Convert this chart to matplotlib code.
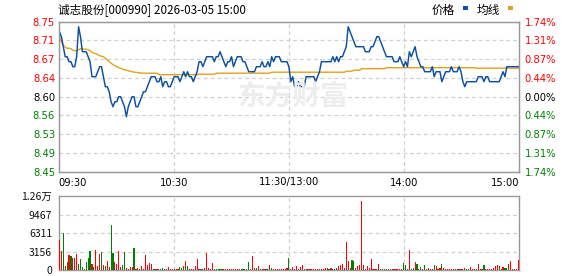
import matplotlib
matplotlib.use('Agg')
import matplotlib.pyplot as plt
from matplotlib.patches import Rectangle
from matplotlib.transforms import blended_transform_factory

W, H = 578, 276

title = "诚志股份[000990] 2026-03-05 15:00"
legend_names = ["价格", "均线"]
watermark = "东方财富"
prev_close = 8.60

price = [
    8.73, 8.72, 8.70, 8.68, 8.68, 8.67, 8.67, 8.66, 8.66, 8.68,
    8.74, 8.72, 8.69, 8.69, 8.69, 8.68, 8.67, 8.64, 8.64, 8.64,
    8.65, 8.66, 8.66, 8.64, 8.62, 8.62, 8.61, 8.59, 8.58, 8.59,
    8.59, 8.60, 8.60, 8.59, 8.58, 8.56, 8.58, 8.59, 8.60, 8.60,
    8.58, 8.58, 8.59, 8.60, 8.61, 8.61, 8.62, 8.63, 8.64, 8.64,
    8.64, 8.63, 8.63, 8.64, 8.62, 8.63, 8.63, 8.62, 8.62, 8.63,
    8.64, 8.64, 8.64, 8.63, 8.64, 8.65, 8.64, 8.65, 8.64, 8.64,
    8.63, 8.64, 8.65, 8.67, 8.67, 8.66, 8.67, 8.68, 8.68, 8.68,
    8.68, 8.67, 8.68, 8.68, 8.69, 8.68, 8.67, 8.66, 8.67, 8.67,
    8.68, 8.66, 8.67, 8.68, 8.68, 8.68, 8.67, 8.67, 8.66, 8.65,
    8.65, 8.65, 8.65, 8.66, 8.66, 8.66, 8.67, 8.66, 8.66, 8.67,
    8.66, 8.68, 8.67, 8.68, 8.68, 8.68, 8.67, 8.67, 8.67, 8.67,
    8.66, 8.63, 8.64, 8.62, 8.62, 8.63, 8.62, 8.62, 8.62, 8.64,
    8.64, 8.64, 8.64, 8.64, 8.63, 8.64, 8.65, 8.67, 8.67, 8.67,
    8.67, 8.67, 8.67, 8.68, 8.67, 8.68, 8.67, 8.68, 8.68, 8.69,
    8.70, 8.74, 8.73, 8.72, 8.71, 8.70, 8.70, 8.70, 8.70, 8.70,
    8.69, 8.69, 8.69, 8.70, 8.70, 8.71, 8.72, 8.72, 8.71, 8.70,
    8.69, 8.68, 8.68, 8.68, 8.68, 8.67, 8.67, 8.67, 8.68, 8.67,
    8.66, 8.67, 8.66, 8.69, 8.68, 8.69, 8.70, 8.68, 8.67, 8.66,
    8.66, 8.65, 8.65, 8.65, 8.65, 8.66, 8.64, 8.65, 8.65, 8.65,
    8.63, 8.64, 8.65, 8.65, 8.65, 8.66, 8.65, 8.65, 8.65, 8.66,
    8.65, 8.63, 8.62, 8.63, 8.63, 8.63, 8.63, 8.63, 8.63, 8.64,
    8.64, 8.64, 8.63, 8.64, 8.64, 8.63, 8.63, 8.63, 8.63, 8.63,
    8.63, 8.64, 8.65, 8.64, 8.66, 8.66, 8.66, 8.66, 8.66, 8.66,
    8.66,
]

avg = [
    8.720, 8.710, 8.703, 8.699, 8.697, 8.697, 8.696, 8.693, 8.692, 8.692,
    8.694, 8.696, 8.696, 8.695, 8.695, 8.694, 8.692, 8.689, 8.687, 8.686,
    8.684, 8.682, 8.681, 8.680, 8.677, 8.674, 8.670, 8.667, 8.664, 8.662,
    8.660, 8.658, 8.657, 8.655, 8.654, 8.653, 8.652, 8.651, 8.650, 8.649,
    8.649, 8.648, 8.648, 8.647, 8.647, 8.647, 8.647, 8.647, 8.647, 8.647,
    8.647, 8.647, 8.644, 8.644, 8.644, 8.644, 8.644, 8.644, 8.644, 8.644,
    8.644, 8.644, 8.644, 8.644, 8.644, 8.644, 8.644, 8.644, 8.644, 8.644,
    8.644, 8.644, 8.644, 8.645, 8.645, 8.645, 8.645, 8.645, 8.645, 8.645,
    8.645, 8.645, 8.647, 8.647, 8.647, 8.647, 8.647, 8.647, 8.647, 8.647,
    8.647, 8.647, 8.647, 8.647, 8.647, 8.647, 8.647, 8.647, 8.647, 8.647,
    8.647, 8.647, 8.647, 8.647, 8.647, 8.647, 8.647, 8.647, 8.647, 8.647,
    8.647, 8.649, 8.649, 8.649, 8.649, 8.649, 8.649, 8.649, 8.649, 8.649,
    8.649, 8.649, 8.649, 8.649, 8.649, 8.649, 8.649, 8.649, 8.649, 8.649,
    8.649, 8.649, 8.649, 8.649, 8.649, 8.649, 8.649, 8.649, 8.649, 8.649,
    8.649, 8.649, 8.649, 8.649, 8.649, 8.649, 8.649, 8.649, 8.649, 8.649,
    8.651, 8.651, 8.651, 8.651, 8.653, 8.653, 8.653, 8.653, 8.656, 8.656,
    8.656, 8.656, 8.656, 8.656, 8.656, 8.656, 8.656, 8.656, 8.656, 8.656,
    8.656, 8.658, 8.658, 8.658, 8.658, 8.658, 8.658, 8.658, 8.658, 8.658,
    8.658, 8.658, 8.658, 8.658, 8.658, 8.658, 8.658, 8.658, 8.658, 8.658,
    8.658, 8.658, 8.658, 8.658, 8.658, 8.658, 8.658, 8.658, 8.658, 8.658,
    8.658, 8.658, 8.658, 8.658, 8.658, 8.658, 8.658, 8.658, 8.658, 8.658,
    8.658, 8.658, 8.658, 8.658, 8.658, 8.658, 8.658, 8.658, 8.657, 8.657,
    8.657, 8.657, 8.657, 8.657, 8.657, 8.657, 8.657, 8.657, 8.657, 8.657,
    8.657, 8.657, 8.657, 8.657, 8.657, 8.657, 8.657, 8.657, 8.657, 8.657,
    8.657,
]

volume = [
    5170, 3270, 6370, 690, 1380, 2580, 2410, 2070, 2070, 2760,
    1030, 1890, 520, 230, 1380, 2070, 3270, 1030, 520, 3440,
    690, 2760, 3100, 860, 750, 1550, 520, 7750, 2930, 1380,
    1030, 3270, 520, 860, 3100, 340, 170, 520, 520, 3790,
    170, 340, 170, 690, 170, 2580, 860, 1210, 1030, 170,
    170, 170, 170, 170, 340, 170, 170, 520, 170, 170,
    170, 170, 170, 520, 340, 690, 1550, 690, 170, 170,
    170, 690, 1890, 170, 170, 170, 340, 2930, 340, 170,
    1210, 170, 170, 170, 170, 170, 170, 170, 170, 170,
    170, 170, 170, 170, 170, 170, 170, 170, 170, 1380,
    170, 2410, 340, 340, 690, 170, 170, 170, 170, 170,
    860, 340, 170, 170, 170, 170, 170, 170, 170, 340,
    2070, 170, 520, 170, 690, 170, 520, 860, 170, 170,
    170, 170, 170, 170, 170, 170, 170, 170, 170, 340,
    340, 170, 340, 170, 170, 340, 690, 860, 1030, 340,
    4820, 1550, 340, 1720, 1550, 340, 690, 860, 11700, 860,
    170, 690, 340, 1890, 170, 170, 170, 1030, 170, 170,
    170, 170, 170, 170, 170, 170, 170, 170, 170, 170,
    1210, 860, 170, 3440, 170, 340, 1380, 1030, 170, 520,
    170, 860, 170, 340, 170, 170, 860, 690, 170, 340,
    1030, 340, 170, 170, 170, 170, 170, 170, 170, 170,
    170, 170, 340, 170, 170, 520, 170, 170, 170, 1030,
    170, 170, 860, 170, 170, 170, 170, 340, 690, 860,
    690, 170, 520, 340, 340, 1030, 1550, 170, 170, 170,
    1720,
]

# r = up (red), g = down (green), one letter per minute
volume_dir = "".join([
    "rrgrgrgrrr", "gggrgggrgr", "rrgrgrrggr", "rrrggrrrrg", "rrgrrrrrrr",
    "grrggrrrrg", "rrrgggrgrr", "rrrrgrrrrr", "rgggggrrrr", "rrrrrggrgg",
    "rrrgrgrrgg", "rgrrrrrrrr", "grrrrrrrgg", "rrrrrrrrrr", "rgrggrrrrr",
    "rrgggrrrrr", "grrrrrrrgg", "ggrggrrrrr", "ggrrggrgrg", "rgrrrrgrrr",
    "grrrrrrrrg", "rrgrgrrrrr", "rggrrrrrrr", "rgrggrrgrr", "r",
])

price_ticks = [8.45, 8.4875, 8.525, 8.5625, 8.60, 8.6375, 8.675, 8.7125, 8.75]
price_labels = ["8.45", "8.49", "8.53", "8.56", "8.60", "8.64", "8.67", "8.71", "8.75"]
pct_labels = ["1.74%", "1.31%", "0.87%", "0.44%", "0.00%", "0.44%", "0.87%", "1.31%", "1.74%"]
vol_ticks = [0, 3156, 6311, 9467, 12622]
vol_labels = ["0", "3156", "6311", "9467", "1.26万"]
time_pos = [0, 60, 120, 180, 240]
time_labels = ["09:30", "10:30", "11:30/13:00", "14:00", "15:00"]

RED = "#ff0000"
GREEN = "#008000"
BLUE = "#0b4fa3"
GOLD = "#e0a21f"
GRID = "#d0d0d0"
BORDER = "#999999"
CJK = ["Noto Sans CJK SC", "DejaVu Sans"]
FS = 7.2

fig = plt.figure(figsize=(W / 100, H / 100), dpi=100)
fig.patch.set_facecolor("white")


def px(x, y):
    return x / W, 1 - y / H


L, R = 58.5, 519.3
pt, pb = 21.7, 171.7
vt, vb = 196.0, 270.3
ax = fig.add_axes([L / W, 1 - pb / H, (R - L) / W, (pb - pt) / H])
axv = fig.add_axes([L / W, 1 - vb / H, (R - L) / W, (vb - vt) / H])

x = list(range(len(price)))
xl = (-0.5, len(price) - 0.5)

for a in (ax, axv):
    a.set_xlim(*xl)
    for s in a.spines.values():
        s.set_color(BORDER)
        s.set_linewidth(1.0)
    a.set_xticks([])
    for t in time_pos[1:-1]:
        a.axvline(t, color=GRID, lw=0.9, ls=(0, (3, 2.5)), zorder=1)

fig.text(*px(293, 97), watermark, family=CJK, fontsize=20, fontweight="bold",
         color="#ededed", ha="center", va="center", zorder=0)

ax.set_ylim(price_ticks[0], price_ticks[-1])
ax.set_yticks(price_ticks)
ax.set_yticklabels(price_labels)
for v in price_ticks[1:-1]:
    ax.axhline(v, color=GRID, lw=0.9, ls=(0, (3, 2.5)), zorder=1)
ax.tick_params(axis="y", length=0, pad=2.5, labelsize=FS)
ax.patch.set_alpha(0)
ax.plot(x, avg, color=GOLD, lw=1.0, zorder=3)
ax.plot(x, price, color=BLUE, lw=1.05, zorder=4)


def lab_color(v):
    if v > prev_close + 1e-9:
        return RED
    if v < prev_close - 1e-9:
        return GREEN
    return "#000000"


for lbl, v in zip(ax.get_yticklabels(), price_ticks):
    lbl.set_color(lab_color(v))

axr = ax.twinx()
axr.set_ylim(price_ticks[0], price_ticks[-1])
axr.set_yticks(price_ticks)
axr.set_yticklabels(pct_labels)
axr.tick_params(axis="y", length=0, pad=4, labelsize=FS)
for s in axr.spines.values():
    s.set_color(BORDER)
for lbl, v in zip(axr.get_yticklabels(), price_ticks):
    lbl.set_color(lab_color(v))

tr = blended_transform_factory(ax.transData, fig.transFigure)
ty = 1 - 182.5 / H
for i, (t, s) in enumerate(zip(time_pos, time_labels)):
    if i == 0:
        fig.text(xl[0], ty, s, transform=tr, ha="left", va="center", fontsize=FS)
    elif i == len(time_pos) - 1:
        fig.text(xl[1], ty, s, transform=tr, ha="right", va="center", fontsize=FS)
    else:
        fig.text(t, ty, s, transform=tr, ha="center", va="center", fontsize=FS)

colors = [RED if c == "r" else GREEN for c in volume_dir]
axv.bar(x, volume, width=0.6, color=colors, linewidth=0, zorder=3, antialiased=False)
axv.set_ylim(vol_ticks[0], vol_ticks[-1])
axv.set_yticks(vol_ticks)
axv.set_yticklabels(vol_labels, family=CJK)
for v in vol_ticks[1:-1]:
    axv.axhline(v, color=GRID, lw=0.9, ls=(0, (3, 2.5)), zorder=1)
axv.tick_params(axis="y", length=0, pad=4.5, labelsize=FS + 0.3, labelcolor="#111111")

fig.text(*px(58, 10), title, family=CJK, fontsize=8.4, ha="left", va="center")
fig.text(*px(431.5, 10), legend_names[0], family=CJK, fontsize=8.4, ha="left", va="center")
fig.add_artist(Rectangle(px(463, 9.5), 5 / W, 3.5 / H, transform=fig.transFigure,
                         color=BLUE, lw=0))
fig.text(*px(476.5, 10), legend_names[1], family=CJK, fontsize=8.4, ha="left", va="center")
fig.add_artist(Rectangle(px(508, 9.5), 5 / W, 3.5 / H, transform=fig.transFigure,
                         color=GOLD, lw=0))

fig.savefig("out.png", dpi=100)
